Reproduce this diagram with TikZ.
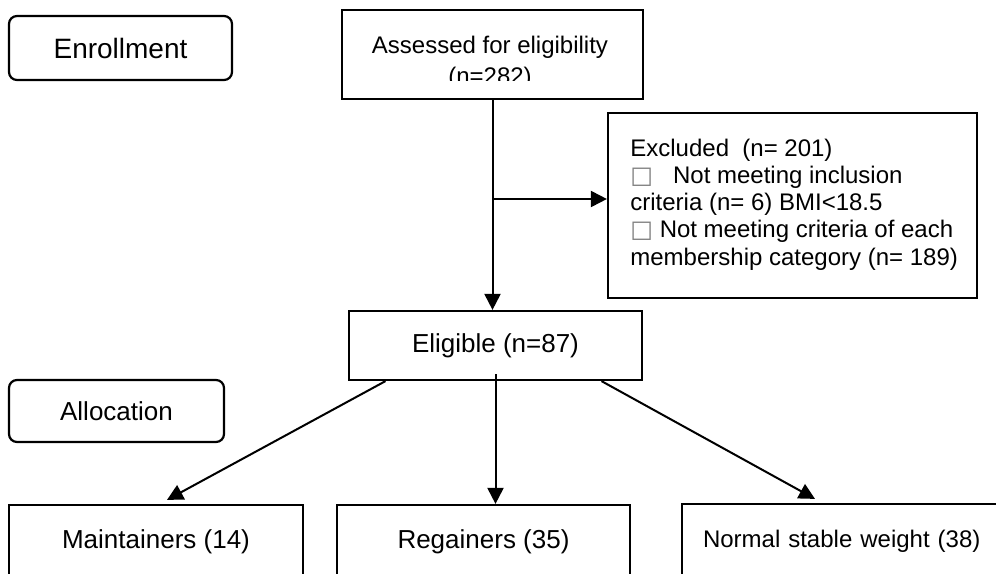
\documentclass[tikz,border=0pt]{standalone}
\usepackage{fontspec}
\setmainfont{Liberation Sans}
\newfontfamily\symfont{DejaVu Sans}
\usetikzlibrary{arrows.meta}
\newcommand{\tofu}{{\color{gray}\symfont □}}
\begin{document}
\begin{tikzpicture}[x=0.5pt,y=-0.5pt,
  box/.style={draw,line width=1.1pt,inner sep=0pt},
  stage/.style={box,rounded corners=4pt},
  flow/.style={line width=1pt,-{Triangle[length=8pt,width=8pt]}}]
\path[use as bounding box] (0,0) rectangle (996,573);
\clip (0,0) rectangle (996,573);
\node[stage,minimum width=111.5pt,minimum height=32pt,font=\fontsize{14}{16}\selectfont] (enrol) at (120.5,48) {Enrollment};
\node[stage,minimum width=107.5pt,minimum height=31pt,font=\fontsize{13}{15}\selectfont] (alloc) at (116.5,411) {Allocation};
\node[box,minimum width=150.5pt,minimum height=44.5pt] (assess) at (492.5,54.5) {};
\begin{scope}
\clip (342,10) rectangle (643,80);
\node[font=\fontsize{12}{15.5}\selectfont,align=center,anchor=base,inner sep=0pt] (assesstxt) at (490,84) {Assessed for eligibility\\(n=282)};
\end{scope}
\node[box,minimum width=184.5pt,minimum height=92.5pt] (excl) at (792.5,205.5) {};
\node[font=\fontsize{12}{13.6}\selectfont,align=left,anchor=base west,inner sep=0pt] (excltxt) at (630,265)
  {Excluded\ \ (n= 201)\\\tofu\ \ \ Not meeting inclusion\\criteria (n= 6) BMI<18.5\\\tofu\ Not meeting criteria of each\\membership category (n= 189)};
\node[box,minimum width=146.5pt,minimum height=34.5pt,font=\fontsize{13}{15}\selectfont] (elig) at (495.5,345.5) {Eligible (n=87)};
\node[box,minimum width=147pt,minimum height=37pt,font=\fontsize{13}{15}\selectfont] (maint) at (156,542) {Maintainers (14)};
\node[box,minimum width=146.5pt,minimum height=37pt,font=\fontsize{13}{15}\selectfont] (reg) at (483.5,542) {Regainers (35)};
\node[box,minimum height=37.5pt,text width=143pt,inner xsep=10.5pt,align=left,font=\fontsize{12}{14}\selectfont] (norm) at (846,541.5) {Normal stable weight (38)};
% arrows
\draw[flow] (assess.south) -- (assess.south |- elig.north);
\coordinate (split) at (493,199);
\draw[flow] (split) -- (split -| excl.west);
\draw[flow] ([xshift=-55pt]elig.south) -- ([xshift=5.5pt,yshift=2pt]maint.north);
\draw[flow] ([yshift=3.5pt]elig.south) -- (elig.south |- reg.north);
\draw[flow] ([xshift=53pt]elig.south) -- ([xshift=-15.5pt,yshift=2pt]norm.north);
\end{tikzpicture}
\end{document}
